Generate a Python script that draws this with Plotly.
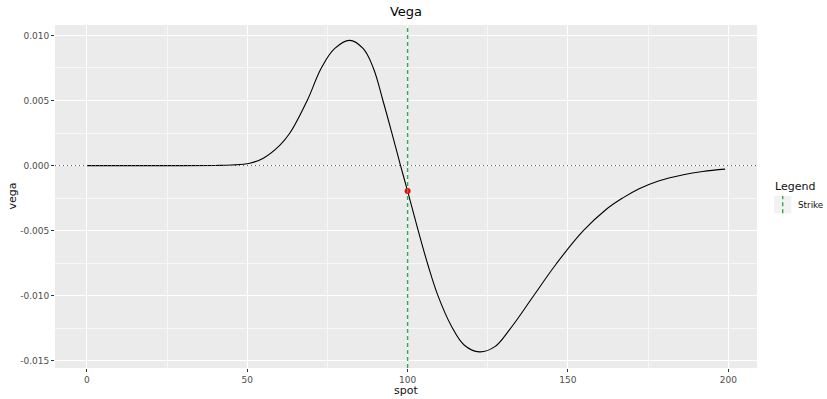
import plotly.graph_objects as go

# ---- data ----
spot = [0, 10, 20, 30, 40, 45, 50.8, 55, 60.2, 63.3, 68.7, 73.1, 77.3, 81.9, 86.1,
        89.3, 92.3, 95.1, 97.8, 100, 103.2, 106.3, 109.4, 113.6, 117.7, 122.4,
        127.1, 131.8, 139.3, 146.5, 154.8, 161.8, 167.0, 172.2, 178.0, 186.0,
        192.0, 199]
vega = [0.0, 0.0, 0.0, 0.0, 0.00001, 0.00004, 0.00018, 0.00057, 0.00158, 0.0025,
        0.005, 0.0075, 0.009, 0.00962, 0.0090, 0.0075, 0.005, 0.0025, 0.0,
        -0.00196, -0.0049, -0.0076, -0.00995, -0.0123, -0.0138, -0.01431,
        -0.01393, -0.0126, -0.010, -0.0075, -0.005, -0.00339, -0.0025, -0.00178,
        -0.0012, -0.0007, -0.00045, -0.00027]
strike = 100
strike_vega = -0.00196

x_ticks = [0, 50, 100, 150, 200]
x_minor = [25, 75, 125, 175]
y_ticks = [-0.015, -0.010, -0.005, 0.0, 0.005, 0.010]
y_tick_labels = ["-0.015", "-0.010", "-0.005", "0.000", "0.005", "0.010"]
y_minor = [-0.0125, -0.0075, -0.0025, 0.0025, 0.0075]

FONT = "DejaVu Sans"
GREEN = "#2EAB4F"

fig = go.Figure()
fig.add_trace(go.Scatter(x=spot, y=vega, mode="lines",
                         line=dict(color="black", width=1.1, shape="spline", smoothing=1.1),
                         showlegend=False, hoverinfo="skip"))
fig.add_trace(go.Scatter(x=[strike], y=[strike_vega], mode="markers",
                         marker=dict(color="red", size=6, line=dict(width=0)),
                         showlegend=False))

fig.add_hline(y=0, line=dict(color="#555555", width=1, dash="1px,3px"), layer="above")
fig.add_vline(x=strike, line=dict(color=GREEN, width=1.4, dash="4px,3px"), layer="above")

axis_common = dict(showline=False, zeroline=False, ticks="outside", ticklen=3,
                   tickwidth=1, tickcolor="#333333", gridcolor="white", gridwidth=1.1,
                   tickfont=dict(family=FONT, size=9, color="#4D4D4D"))

fig.update_xaxes(range=[-9.95, 208.95], tickvals=x_ticks,
                 minor=dict(tickvals=x_minor, showgrid=True, gridcolor="#F7F7F7",
                            gridwidth=0.5),
                 **axis_common)
fig.update_yaxes(range=[-0.01555, 0.0108], tickvals=y_ticks, ticktext=y_tick_labels,
                 minor=dict(tickvals=y_minor, showgrid=True, gridcolor="#F7F7F7",
                            gridwidth=0.5),
                 **axis_common)

# panel geometry (px)
W, H = 827, 399
L, R, T, B = 55, 70, 25, 31
pw, ph = W - L - R, H - T - B

def px_x(p):
    return (p - L) / pw

def px_y(p):
    return (H - B - p) / ph

annotations = [
    dict(text="spot", x=0.5, y=px_y(390), xref="paper", yref="paper",
         showarrow=False, xanchor="center", yanchor="middle",
         font=dict(family=FONT, size=11, color="#111111")),
    dict(text="vega", x=px_x(12), y=0.5, xref="paper", yref="paper", textangle=-90,
         showarrow=False, xanchor="center", yanchor="middle",
         font=dict(family=FONT, size=11, color="#111111")),
    dict(text="Legend", x=px_x(773), y=px_y(186), xref="paper", yref="paper",
         showarrow=False, xanchor="left", yanchor="middle",
         font=dict(family=FONT, size=11, color="#111111")),
    dict(text="Strike", x=px_x(795.5), y=px_y(204.5), xref="paper", yref="paper",
         showarrow=False, xanchor="left", yanchor="middle",
         font=dict(family=FONT, size=8.8, color="#111111")),
]

shapes = [
    dict(type="rect", xref="paper", yref="paper",
         x0=px_x(774), x1=px_x(791.3), y0=px_y(213.3), y1=px_y(196),
         fillcolor="#F2F2F2", line=dict(width=0)),
    dict(type="line", xref="paper", yref="paper",
         x0=px_x(782.7), x1=px_x(782.7), y0=px_y(213.3), y1=px_y(196),
         line=dict(color=GREEN, width=1.4, dash="4px,3px")),
]

fig.update_layout(
    width=W, height=H,
    margin=dict(l=L, r=R, t=T, b=B),
    paper_bgcolor="white", plot_bgcolor="#EBEBEB",
    title=dict(text="Vega", x=0.5, xref="paper", y=1 - 11.5 / H, yref="container",
               xanchor="center", yanchor="middle",
               font=dict(family=FONT, size=13, color="black")),
    showlegend=False,
    annotations=annotations,
    font=dict(family=FONT),
)
for s in shapes:
    fig.add_shape(**s)

fig.write_html("out.html", config={"displayModeBar": False},
               post_script="document.body.style.margin='0';")
